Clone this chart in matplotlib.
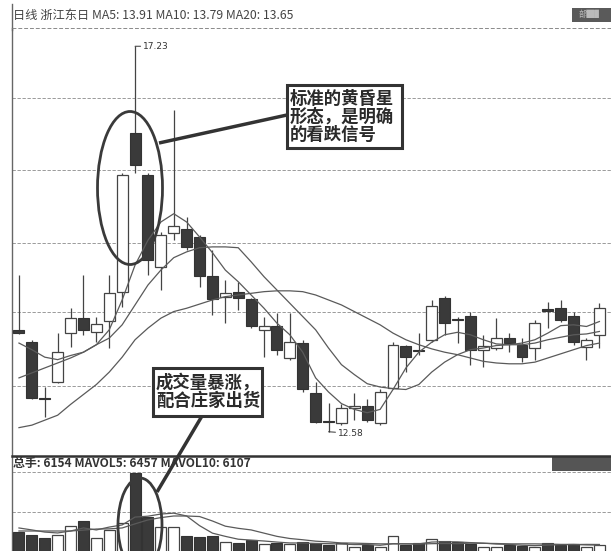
import matplotlib
matplotlib.use("Agg")
import matplotlib.pyplot as plt
from matplotlib.patches import Ellipse, Rectangle
import numpy as np

plt.rcParams['font.family'] = ['Noto Sans CJK SC', 'DejaVu Sans']

# 日K数据 (开, 高, 低, 收)
opens = [13.81, 13.66, 12.98, 13.18, 13.77, 13.95, 13.78, 13.92, 14.27, 16.18,
         15.68, 14.57, 14.98, 15.03, 14.93, 14.46, 14.21, 14.27, 14.18, 13.81,
         13.86, 13.47, 13.65, 13.05, 12.71, 12.69, 12.87, 12.89, 12.69, 13.11,
         13.62, 13.56, 13.69, 14.19, 13.94, 13.98, 13.57, 13.59, 13.71, 13.63,
         13.59, 14.05, 14.07, 13.98, 13.60, 13.75]
highs = [14.47, 13.69, 13.12, 13.77, 14.07, 14.47, 13.97, 14.47, 15.70, 17.23,
         15.70, 14.99, 16.46, 15.17, 14.95, 14.77, 14.41, 14.39, 14.19, 13.97,
         14.01, 14.01, 13.69, 13.18, 12.93, 12.91, 13.05, 12.97, 13.09, 13.66,
         13.63, 13.77, 14.17, 14.22, 13.97, 14.03, 13.75, 13.95, 13.77, 13.71,
         13.93, 14.15, 14.17, 14.03, 13.71, 14.13]
lows = [13.76, 12.97, 12.76, 13.17, 13.60, 13.75, 13.66, 13.59, 14.09, 15.70,
        14.47, 14.29, 14.89, 14.77, 14.33, 13.99, 13.89, 14.05, 13.83, 13.48,
        13.51, 13.45, 13.06, 12.68, 12.58, 12.66, 12.72, 12.70, 12.66, 13.09,
        13.30, 13.51, 13.66, 13.75, 13.65, 13.39, 13.36, 13.57, 13.54, 13.42,
        13.45, 13.83, 13.91, 13.63, 13.45, 13.59]
closes = [13.77, 12.99, 12.97, 13.54, 13.95, 13.81, 13.88, 14.25, 15.68, 15.80,
          14.65, 14.95, 15.06, 14.81, 14.46, 14.18, 14.25, 14.19, 13.86, 13.85,
          13.57, 13.66, 13.09, 12.70, 12.70, 12.87, 12.88, 12.72, 13.06, 13.63,
          13.48, 13.55, 14.10, 13.89, 13.93, 13.57, 13.62, 13.71, 13.65, 13.48,
          13.89, 14.04, 13.93, 13.66, 13.69, 14.07]

ma5 = [13.65, 13.57, 13.48, 13.45, 13.50, 13.54, 13.63, 13.81, 14.17, 14.59,
       14.89, 15.11, 15.21, 15.11, 14.93, 14.74, 14.53, 14.39, 14.23, 14.07,
       13.89, 13.75, 13.54, 13.23, 13.06, 12.92, 12.85, 12.81, 12.85, 13.09,
       13.35, 13.54, 13.66, 13.75, 13.78, 13.75, 13.69, 13.64, 13.63, 13.65,
       13.69, 13.77, 13.86, 13.87, 13.85, 13.91]
ma10 = [13.23, 13.29, 13.35, 13.41, 13.47, 13.54, 13.63, 13.71, 13.87, 14.11,
        14.35, 14.53, 14.68, 14.75, 14.80, 14.81, 14.81, 14.80, 14.63, 14.45,
        14.29, 14.13, 13.97, 13.81, 13.59, 13.39, 13.27, 13.16, 13.12, 13.10,
        13.09, 13.15, 13.30, 13.42, 13.51, 13.57, 13.59, 13.62, 13.63, 13.63,
        13.65, 13.69, 13.72, 13.75, 13.76, 13.79]
ma20 = [12.63, 12.66, 12.72, 12.78, 12.91, 13.03, 13.15, 13.30, 13.48, 13.69,
        13.83, 13.95, 14.03, 14.07, 14.12, 14.17, 14.21, 14.23, 14.25, 14.27,
        14.28, 14.28, 14.27, 14.23, 14.17, 14.11, 14.03, 13.95, 13.87, 13.77,
        13.69, 13.63, 13.58, 13.54, 13.51, 13.47, 13.43, 13.41, 13.40, 13.40,
        13.42, 13.47, 13.52, 13.57, 13.62, 13.65]

# 成交量 (手)
volume = [13400, 11800, 10100, 11800, 16800, 19600, 10100, 14600, 18500, 46500,
          21800, 16200, 16300, 11200, 10600, 11200, 7800, 7300, 9000, 6700,
          7300, 6700, 7800, 7300, 6200, 7300, 5000, 6200, 5000, 11200,
          6200, 7300, 9500, 8400, 7800, 6700, 5000, 5000, 6200, 5600,
          5000, 7300, 6200, 6700, 5000, 6154]
mavol5 = [15700, 14600, 13400, 12900, 14000, 15700, 14600, 16200, 17400, 21800,
          22300, 23500, 24000, 22400, 17000, 12800, 11000, 9400, 8900, 8400,
          7800, 7300, 7300, 7000, 6900, 6700, 6400, 6400, 6000, 6900,
          6800, 6800, 7800, 8000, 7900, 7500, 7200, 6700, 6500, 6000,
          5800, 6100, 6300, 6400, 6500, 6457]
mavol10 = [14000, 14000, 14000, 14000, 14000, 14500, 15100, 15200, 15700, 18000,
           20200, 21500, 22400, 22400, 22100, 19600, 16700, 15500, 14600, 12800,
           11000, 9800, 9100, 8300, 7900, 7300, 7200, 7000, 6800, 6800,
           6800, 6700, 6900, 7000, 6900, 7200, 7100, 7000, 6800, 6800,
           6800, 6700, 6500, 6500, 6200, 6107]

price_grid = [16.60, 15.74, 14.86, 14.03, 13.13]
vol_grid = [24640, 47040]

header = "日线 浙江东日 MA5: 13.91 MA10: 13.79 MA20: 13.65"
vol_header = "总手: 6154 MAVOL5: 6457 MAVOL10: 6107"
note1 = "标准的黄昏星\n形态，是明确\n的看跌信号"
note2 = "成交量暴涨，\n配合庄家出货"

DARK = '#3a3a3a'
EDGE = '#444444'
LINE = '#5a5a5a'

W, H = 611, 551
fig = plt.figure(figsize=(W / 100, H / 100), dpi=100)
fig.patch.set_facecolor('white')

ax = fig.add_axes([12 / W, (H - 455) / H, (W - 12) / W, (455 - 28) / H])
axv = fig.add_axes([12 / W, 0, (W - 12) / W, (H - 457) / H])

x = np.arange(len(closes))
o = np.array(opens)
c = np.array(closes)
up = c >= o

# 影线
ax.vlines(x, lows, highs, color=EDGE, lw=0.9, zorder=2)
# 实体
bottoms = np.minimum(o, c)
heights = np.maximum(np.abs(c - o), 0.015)
ax.bar(x[up], heights[up], bottom=bottoms[up], width=0.85,
       facecolor='white', edgecolor=EDGE, lw=0.9, zorder=3)
ax.bar(x[~up], heights[~up], bottom=bottoms[~up], width=0.85,
       facecolor=DARK, edgecolor='#333333', lw=0.8, zorder=3)

for m in (ma5, ma10, ma20):
    ax.plot(x, m, color=LINE, lw=0.9, zorder=4)

for g in price_grid:
    ax.axhline(g, color='#8a8a8a', lw=0.6, ls=(0, (4, 2)), zorder=1)

ax.annotate('17.23', xy=(9, 17.23), xytext=(6, 0), textcoords='offset points',
            va='center', ha='left', fontsize=6.5, color='#333333',
            family='DejaVu Sans',
            arrowprops=dict(arrowstyle='-', lw=0.7, color='#333333',
                            shrinkA=0, shrinkB=0))
ax.annotate('12.58', xy=(24, 12.58), xytext=(7, -1), textcoords='offset points',
            va='center', ha='left', fontsize=6.5, color='#333333',
            family='DejaVu Sans',
            arrowprops=dict(arrowstyle='-', lw=0.7, color='#333333',
                            shrinkA=0, shrinkB=0))

ax.set_xlim(-0.54, 45.9)
ax.set_ylim(12.30, 17.45)
ax.set_xticks([])
ax.set_yticks([])
for s in ('top', 'right', 'bottom'):
    ax.spines[s].set_visible(False)
ax.spines['left'].set_color('#666666')
ax.spines['left'].set_linewidth(1.0)

# 成交量
vol = np.array(volume)
axv.bar(x[up], vol[up], width=0.85, facecolor='white', edgecolor=EDGE,
        lw=0.9, zorder=3)
axv.bar(x[~up], vol[~up], width=0.85, facecolor=DARK, edgecolor='#333333',
        lw=0.8, zorder=3)
axv.plot(x, mavol5, color=LINE, lw=0.9, zorder=4)
axv.plot(x, mavol10, color=LINE, lw=0.9, zorder=4)
for g in vol_grid:
    axv.axhline(g, color='#8a8a8a', lw=0.6, ls=(0, (4, 2)), zorder=1)
axv.set_xlim(-0.54, 45.9)
axv.set_ylim(2800, 55440)
axv.set_xticks([])
axv.set_yticks([])
for s in ('top', 'right', 'bottom'):
    axv.spines[s].set_visible(False)
axv.spines['left'].set_color('#666666')
axv.spines['left'].set_linewidth(1.0)

# 覆盖层 (像素坐标)
ov = fig.add_axes([0, 0, 1, 1], zorder=10)
ov.set_xlim(0, W)
ov.set_ylim(H, 0)
ov.axis('off')
ov.patch.set_alpha(0)

ov.plot([12, 12], [4, 30], color='#666666', lw=1.0)
ov.plot([12, W], [28, 28], color='#8a8a8a', lw=0.7, ls=(0, (4, 2)))
ov.text(13, 15, header, fontsize=8.8, color='#444444', va='center', ha='left')
ov.add_patch(Rectangle((572, 8), 39, 14, facecolor='#5a5a5a', edgecolor='none'))
ov.text(591, 15, "部█▌", fontsize=6, color='#bbbbbb', va='center', ha='center',
        family=['Noto Sans CJK SC', 'DejaVu Sans'])

ov.plot([12, W], [456, 456], color='#333333', lw=1.8)
ov.add_patch(Rectangle((552, 457), W - 552, 14, facecolor='#555555', edgecolor='none'))
ov.text(13, 463, vol_header, fontsize=8.6, fontweight='bold', color='#333333',
        va='center', ha='left')

ov.add_patch(Ellipse((130, 188), 65, 153, fill=False, edgecolor='#3a3a3a', lw=2.0))
ov.add_patch(Ellipse((140, 525), 44, 94, fill=False, edgecolor='#3a3a3a', lw=2.0))

ov.plot([159, 287], [143, 115], color='#333333', lw=2.5, solid_capstyle='butt')
ov.plot([202, 157], [416, 492], color='#333333', lw=2.5, solid_capstyle='butt')

ov.add_patch(Rectangle((287, 85), 115, 63, facecolor='white', edgecolor='#333333', lw=2.2))
ov.text(290, 116.5, note1, fontsize=12.5, fontweight='bold', color='#2a2a2a',
        va='center', ha='left', linespacing=1.0)
ov.add_patch(Rectangle((153, 368), 109, 48, facecolor='white', edgecolor='#333333', lw=2.2))
ov.text(156, 392, note2, fontsize=12.5, fontweight='bold', color='#2a2a2a',
        va='center', ha='left', linespacing=1.0)

fig.savefig('out.png', dpi=100)
